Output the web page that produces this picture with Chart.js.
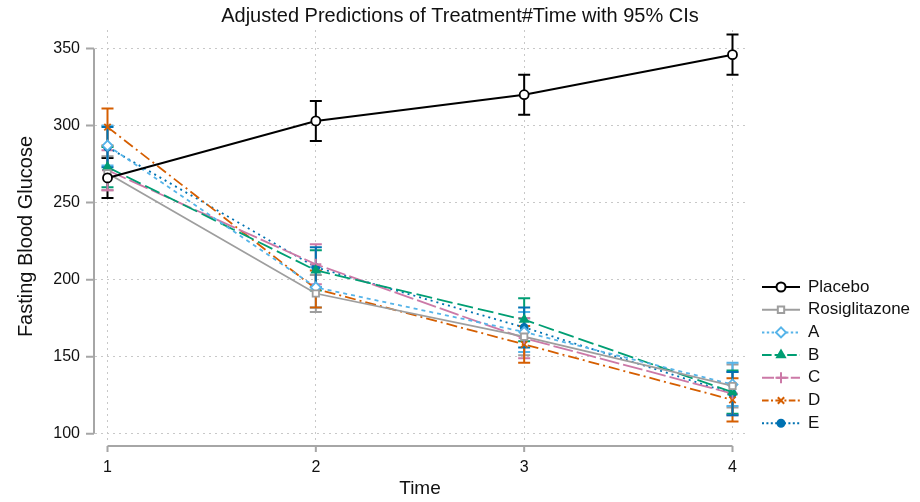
<!DOCTYPE html>
<html>
<head>
<meta charset="utf-8">
<title>Fasting Blood Glucose</title>
<script src="https://cdn.jsdelivr.net/npm/chart.js@4.4.1/dist/chart.umd.min.js"></script>
<style>
  html, body { margin: 0; padding: 0; background: #fff; }
  #wrap { width: 920px; height: 502px; }
</style>
</head>
<body>
<div id="wrap"><canvas id="fbgChart"></canvas></div>
<script>
// time points and y-axis ticks
const times = [1, 2, 3, 4];
const yTicks = [100, 150, 200, 250, 300, 350];

// adjusted predictions (mean) and 95% CI bounds per treatment
const placebo     = [266, 303, 320, 346];
const placeboLo   = [253, 290, 307, 333];
const placeboHi   = [279, 316, 333, 359];

const rosi        = [269, 191, 163, 131];
const rosiLo      = [258, 179, 151, 117];
const rosiHi      = [280, 203, 175, 145];

const trtA        = [287, 195, 166, 132];
const trtALo      = [274, 182, 153, 118];
const trtAHi      = [300, 208, 179, 146];

const trtB        = [273, 206, 174, 127];
const trtBLo      = [260, 193, 160, 113];
const trtBHi      = [286, 219, 188, 141];

const trtC        = [271, 210, 162, 126];
const trtCLo      = [258, 197, 149, 112];
const trtCHi      = [284, 223, 175, 140];

const trtD        = [299, 194, 158, 122];
const trtDLo      = [287, 182, 146, 108];
const trtDHi      = [311, 206, 170, 136];

const trtE        = [286, 208, 169, 126];
const trtELo      = [273, 195, 156, 112];
const trtEHi      = [299, 221, 182, 140];

const FONT = 'Liberation Sans, Arial, Helvetica, sans-serif';

function pts(vals) {
    return vals.map((v, i) => ({ x: times[i], y: v }));
}

function series(label, vals, lo, hi, color, dash, style, radius, fill, width) {
    return {
        label: label,
        data: pts(vals),
        lo: lo,
        hi: hi,
        borderColor: color,
        backgroundColor: color,
        borderWidth: width,
        borderDash: dash,
        pointStyle: style,
        pointRadius: radius,
        pointBorderColor: color,
        pointBackgroundColor: fill ? color : '#ffffff',
        pointBorderWidth: 1.8,
        tension: 0
    };
}

const datasets = [
    series('Placebo', placebo, placeboLo, placeboHi, '#000000', [], 'circle', 4.5, false, 2),
    series('Rosiglitazone', rosi, rosiLo, rosiHi, '#9e9e9e', [], 'rect', 4.5, false, 1.8),
    series('A', trtA, trtALo, trtAHi, '#56B4E9', [4, 4], 'rectRot', 5, false, 1.8),
    series('B', trtB, trtBLo, trtBHi, '#009E73', [16, 5], 'triangle', 4.5, true, 1.8),
    series('C', trtC, trtCLo, trtCHi, '#CC79A7', [20, 4], 'cross', 5.5, false, 1.8),
    series('D', trtD, trtDLo, trtDHi, '#D55E00', [11, 4, 2, 4], 'crossRot', 4.5, false, 1.8),
    series('E', trtE, trtELo, trtEHi, '#0072B2', [2, 4], 'circle', 3.5, true, 1.8)
];

// CI caps drawn under the lines
const errorBars = {
    id: 'errorBars',
    beforeDatasetsDraw(chart) {
        const ctx = chart.ctx;
        const xs = chart.scales.x, ys = chart.scales.y;
        ctx.save();
        chart.data.datasets.forEach(ds => {
            ctx.strokeStyle = ds.borderColor;
            ctx.lineWidth = 2;
            ctx.setLineDash([]);
            times.forEach((t, i) => {
                const px = xs.getPixelForValue(t);
                const y1 = ys.getPixelForValue(ds.lo[i]);
                const y2 = ys.getPixelForValue(ds.hi[i]);
                ctx.beginPath();
                ctx.moveTo(px, y1); ctx.lineTo(px, y2);
                ctx.moveTo(px - 6, y1); ctx.lineTo(px + 6, y1);
                ctx.moveTo(px - 6, y2); ctx.lineTo(px + 6, y2);
                ctx.stroke();
            });
        });
        ctx.restore();
    }
};

// detached axis lines with outward ticks
const axisLines = {
    id: 'axisLines',
    afterDraw(chart) {
        const ctx = chart.ctx;
        const xs = chart.scales.x, ys = chart.scales.y;
        const area = chart.chartArea;
        ctx.save();
        ctx.strokeStyle = '#a6a6a6';
        ctx.lineWidth = 2;
        ctx.setLineDash([]);
        // y axis
        const ax = area.left - 1;
        ctx.beginPath();
        ctx.moveTo(ax, ys.getPixelForValue(yTicks[0]));
        ctx.lineTo(ax, ys.getPixelForValue(yTicks[yTicks.length - 1]));
        yTicks.forEach(v => {
            const py = ys.getPixelForValue(v);
            ctx.moveTo(ax - 8, py); ctx.lineTo(ax, py);
        });
        ctx.stroke();
        // x axis
        const ay = area.bottom + 3;
        ctx.beginPath();
        ctx.moveTo(xs.getPixelForValue(times[0]), ay);
        ctx.lineTo(xs.getPixelForValue(times[times.length - 1]), ay);
        times.forEach(t => {
            const px = xs.getPixelForValue(t);
            ctx.moveTo(px, ay); ctx.lineTo(px, ay + 6);
        });
        ctx.stroke();
        ctx.restore();
    }
};

// legend on the right: line sample with marker, then label
const sideLegend = {
    id: 'sideLegend',
    afterDraw(chart) {
        const ctx = chart.ctx;
        const area = chart.chartArea;
        const x0 = area.right + 17, x1 = area.right + 55, xm = (x0 + x1) / 2;
        ctx.save();
        chart.data.datasets.forEach((ds, i) => {
            const y = 287 + i * 22.7;
            ctx.strokeStyle = ds.borderColor;
            ctx.lineWidth = 2;
            ctx.setLineDash(ds.borderDash.length ? ds.borderDash.map(d => Math.max(2, d * 0.6)) : []);
            ctx.beginPath();
            ctx.moveTo(x0, y); ctx.lineTo(x1, y);
            ctx.stroke();
            ctx.setLineDash([]);
            ctx.fillStyle = ds.pointBackgroundColor;
            Chart.helpers.drawPoint(ctx, {
                pointStyle: ds.pointStyle,
                radius: ds.pointRadius,
                borderWidth: 2
            }, xm, y);
            ctx.fillStyle = '#111';
            ctx.font = '17px ' + FONT;
            ctx.textBaseline = 'middle';
            ctx.textAlign = 'left';
            ctx.fillText(ds.label, x1 + 8, y);
        });
        ctx.restore();
    }
};

const ctx = document.getElementById('fbgChart').getContext('2d');

new Chart(ctx, {
    type: 'line',
    data: { datasets: datasets },
    plugins: [errorBars, axisLines, sideLegend],
    options: {
        responsive: true,
        maintainAspectRatio: false,
        animation: false,
        layout: { padding: 0 },
        plugins: {
            legend: { display: false },
            tooltip: { enabled: false },
            title: {
                display: true,
                text: 'Adjusted Predictions of Treatment#Time with 95% CIs',
                color: '#111',
                font: { family: FONT, size: 20, weight: 'normal' },
                padding: { top: 4, bottom: 2 }
            }
        },
        scales: {
            x: {
                type: 'linear',
                min: 0.94,
                max: 4.06,
                afterBuildTicks: s => { s.ticks = times.map(v => ({ value: v })); },
                afterFit: s => { s.height = 59; },
                grid: { color: '#c8c8c8', lineWidth: 1, drawTicks: false },
                border: { display: false, dash: [2, 4] },
                ticks: {
                    color: '#111',
                    padding: 15,
                    font: { family: FONT, size: 16 }
                },
                title: {
                    display: true,
                    text: 'Time',
                    color: '#111',
                    font: { family: FONT, size: 19 },
                    padding: { top: 0, bottom: 2 }
                }
            },
            y: {
                min: 94,
                max: 362,
                afterBuildTicks: s => { s.ticks = yTicks.map(v => ({ value: v })); },
                afterFit: s => { s.width = 95; },
                grid: { color: '#c8c8c8', lineWidth: 1, drawTicks: false },
                border: { display: false, dash: [2, 4] },
                ticks: {
                    color: '#111',
                    padding: 15,
                    font: { family: FONT, size: 16 }
                },
                title: {
                    display: true,
                    text: 'Fasting Blood Glucose',
                    color: '#111',
                    font: { family: FONT, size: 20 },
                    padding: { top: 14, bottom: 0 }
                }
            },
            // empty right-hand strip that holds the legend
            legendSpace: {
                type: 'linear',
                position: 'right',
                afterFit: s => { s.width = 175; },
                grid: { display: false },
                border: { display: false },
                ticks: { display: false }
            }
        }
    }
});
</script>
</body>
</html>
